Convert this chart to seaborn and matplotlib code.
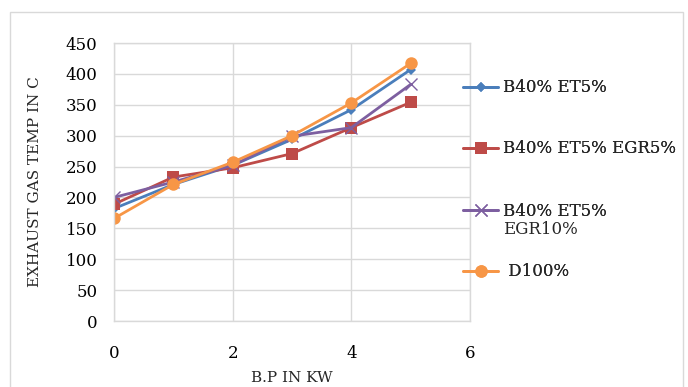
import matplotlib
matplotlib.use("Agg")
import matplotlib.pyplot as plt
import seaborn as sns
import pandas as pd
from matplotlib.patches import Rectangle

bp = [0, 1, 2, 3, 4, 5]
b40_et5 = [182, 221, 252, 294, 342, 407]
b40_et5_egr5 = [189, 233, 248, 271, 313, 354]
b40_et5_egr10 = [200, 225, 252, 299, 313, 383]
d100 = [166, 221, 257, 300, 353, 417]
labels = ["B40% ET5%", "B40% ET5% EGR5%", "B40% ET5% EGR10%", "D100%"]
legend_text = ["B40% ET5%", "B40% ET5% EGR5%", "B40% ET5%", " D100%"]
colors = ["#4a7ebb", "#be4b48", "#7d5fa0", "#f79646"]
markers = ["D", "s", "x", "o"]
msizes = [5, 9, 8, 9]
yticks = [0, 50, 100, 150, 200, 250, 300, 350, 400, 450]
xticks = [0, 2, 4, 6]

rows = []
for lab, vals in zip(labels, [b40_et5, b40_et5_egr5, b40_et5_egr10, d100]):
    for x, v in zip(bp, vals):
        rows.append({"bp": x, "temp": v, "series": lab})
df = pd.DataFrame(rows)

sns.set_theme(style="white")
plt.rcParams["font.family"] = ["DejaVu Serif"]

fig = plt.figure(figsize=(6.88, 3.87), dpi=100)
ax = fig.add_axes([114/688, 66/387, 356/688, 278/387])

for lab, c, m, ms in zip(labels, colors, markers, msizes):
    sub = df[df["series"] == lab]
    sns.lineplot(data=sub, x="bp", y="temp", ax=ax, color=c, marker=m,
                 markersize=ms, linewidth=2, label=lab,
                 markeredgecolor=c, markeredgewidth=1.0 if m == "x" else 0)

ax.set_xlim(0, 6)
ax.set_ylim(0, 450)
ax.set_xticks(xticks)
ax.set_yticks(yticks)
ax.grid(True, color="#d9d9d9", linewidth=1)
for s in ax.spines.values():
    s.set_color("#d9d9d9")
    s.set_linewidth(1)
ax.tick_params(axis="y", length=0, labelsize=12, colors="#000000", pad=12)
ax.tick_params(axis="x", length=0, labelsize=12, colors="#000000", pad=17)
ax.set_xlabel("B.P IN KW", fontsize=11, labelpad=2)
ax.set_ylabel("EXHAUST GAS TEMP IN C", fontsize=11, labelpad=0)
ax.yaxis.set_label_coords(-(114 - 42) / 356, 0.5)
ax.xaxis.set_label_coords(0.5, -(378 - 321) / 278)
ax.xaxis.label.set_va("center")

handles, labs = ax.get_legend_handles_labels()
ax.get_legend().remove()
entry_y = [88, 149, 211, 272]
for h, t, yy in zip(handles, legend_text, entry_y):
    lg = fig.legend([h], [t], loc="center left", bbox_to_anchor=(463/688, 1 - yy/387),
                    frameon=False, fontsize=12, handlelength=2.1,
                    handletextpad=0.3, borderaxespad=0, borderpad=0)
    fig.add_artist(lg)
fig.text(503/688, 1 - 230/387, "EGR10%", fontsize=12, ha="left", va="center")

fig.patches.append(Rectangle((10/688, -0.05), 673/688, 1.05 - 12/387,
                             transform=fig.transFigure, fill=False,
                             edgecolor="#d9d9d9", linewidth=1))
fig.savefig("out.png", dpi=100)
